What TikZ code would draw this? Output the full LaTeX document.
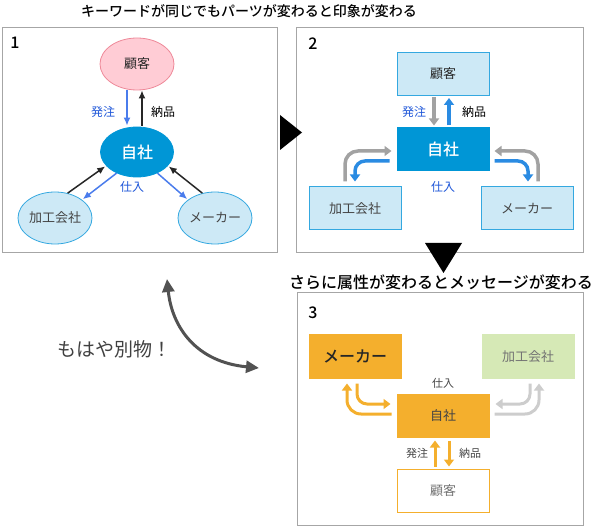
\documentclass[tikz,border=0pt]{standalone}
\usepackage{fontspec}
\setmainfont{Noto Sans CJK JP}
\newfontfamily\medium{Noto Sans CJK JP Medium}
\usepackage{tikz}
\usetikzlibrary{arrows.meta,calc,positioning,shapes.geometric}
\definecolor{selfblue}{HTML}{0096D6}
\definecolor{paleblue}{HTML}{CDE9F6}
\definecolor{edgeblue}{HTML}{34A8E0}
\definecolor{pinkfill}{HTML}{FFCCD5}
\definecolor{pinkedge}{HTML}{EE8898}
\definecolor{linkblue}{HTML}{4A7CEC}
\definecolor{wordblue}{HTML}{1E56D8}
\definecolor{flowblue}{HTML}{2A8BE2}
\definecolor{flowgray}{HTML}{A2A2A2}
\definecolor{amber}{HTML}{F4AF2D}
\definecolor{leaf}{HTML}{D6E9B6}
\definecolor{mist}{HTML}{CDCDCD}
\definecolor{framegray}{HTML}{A6A6A6}
\definecolor{ink}{HTML}{444444}
\newcommand{\fs}[1]{\fontsize{#1}{#1}\selectfont}

\begin{document}
\begin{tikzpicture}[x=1pt,y=-1pt,>=Latex,
  frame/.style={draw=framegray,line width=1pt},
  oval/.style={ellipse,draw=edgeblue,fill=paleblue,line width=0.8pt,
    minimum width=74pt,minimum height=52pt,inner sep=0pt,font=\fs{13},text=ink},
  card/.style={rectangle,draw=edgeblue,fill=paleblue,line width=1pt,
    minimum width=92pt,minimum height=43pt,inner sep=0pt,font=\fs{13},text=ink},
  thin/.style={-{Latex[length=8pt,width=7pt]},line width=1.5pt,shorten >=1pt},
  fat/.style={-{Triangle[length=7pt,width=10pt]},line width=3.5pt},
  word/.style={font=\fs{12},inner sep=0pt}]
  \useasboundingbox (0,0) rectangle (594,526);

  % titles and frames
  \node[font=\medium\fs{14}] (title1) at (249,11) {キーワードが同じでもパーツが変わると印象が変わる};
  \node[font=\medium\fs{16}] (title2) at (441,282) {さらに属性が変わるとメッセージが変わる};
  \draw[frame] (2,28) rectangle (277,253);
  \draw[frame] (296,28) rectangle (583,253);
  \draw[frame] (297,293) rectangle (583,525);
  \node[font=\medium\fs{16}] (num1) at (15,43) {1};
  \node[font=\medium\fs{16}] (num2) at (313,44) {2};
  \node[font=\medium\fs{16}] (num3) at (313,313) {3};
  \fill (280,115) -- (302,132.5) -- (280,150) -- cycle;
  \fill (425,243) -- (462,243) -- (443.5,273) -- cycle;

  % panel 1
  \node[oval,fill=pinkfill,draw=pinkedge,text=black!85] (kokyaku1) at (137,64) {顧客};
  \node[oval,fill=selfblue,draw=selfblue,text=white,font=\medium\fs{16},
    minimum width=73pt,minimum height=50pt] (jisha1) at (137,152) {自社};
  \node[oval] (kako1) at (55,218) {加工会社};
  \node[oval] (maker1) at (215,218) {メーカー};
  \draw[thin,linkblue] ($(kokyaku1.south)+(-10,0)$) -- ($(jisha1.north)+(-10,0)$);
  \draw[thin,black!85] ($(jisha1.north)+(5,-1)$) -- ($(kokyaku1.south)+(5,-1)$);
  \draw[thin,black!85] (kako1.63) -- (jisha1.204);
  \draw[thin,linkblue] (jisha1.226) -- (kako1.34);
  \draw[thin,linkblue] (jisha1.314) -- (maker1.146);
  \draw[thin,black!85] (maker1.117) -- (jisha1.336);
  \node[word,text=wordblue] (order1) at (103,112) {発注};
  \node[word] (deliver1) at (163,112) {納品};
  \node[word,text=wordblue] (buy1) at (132,187) {仕入};

  % panel 2
  \node[card,text=black!85] (kokyaku2) at (443,74) {顧客};
  \node[card,fill=selfblue,draw=selfblue,text=white,font=\medium\fs{16}] (jisha2) at (443,149.5) {自社};
  \node[card] (kako2) at (355,208.5) {加工会社};
  \node[card] (maker2) at (527,208.5) {メーカー};
  \draw[fat,flowgray] ($(kokyaku2.south)+(-9,1)$) -- ($(jisha2.north)+(-9,-2)$);
  \draw[fat,flowblue] ($(jisha2.north)+(6,-2)$) -- ($(kokyaku2.south)+(6,2)$);
  \draw[fat,flowgray,rounded corners=13pt] ($(kako2.north)+(-10,-5)$) |- ($(jisha2.west)+(-5,1.5)$);
  \draw[fat,flowblue,rounded corners=10pt] ($(jisha2.west)+(-7,11.5)$) -| ($(kako2.north)+(0,-5)$);
  \draw[fat,flowgray,rounded corners=13pt] ($(maker2.north)+(11,-5)$) |- ($(jisha2.east)+(5,1.5)$);
  \draw[fat,flowblue,rounded corners=10pt] ($(jisha2.east)+(5,11.5)$) -| ($(maker2.north)+(1,-5)$);
  \node[word,text=wordblue] (order2) at (414,112) {発注};
  \node[word] (deliver2) at (474,112) {納品};
  \node[word,text=wordblue] (buy2) at (443,187) {仕入};

  % panel 3
  \node[card,fill=amber,draw=amber,text=black!85,font=\medium\fs{16}] (maker3) at (355,356.5) {メーカー};
  \node[card,fill=leaf,draw=leaf,text=black!55] (kako3) at (528,356.5) {加工会社};
  \node[card,fill=amber,draw=amber,text=ink,font=\fs{13}] (jisha3) at (443,415.5) {自社};
  \node[card,fill=white,draw=amber,text=black!55] (kokyaku3) at (443,490.5) {顧客};
  \draw[fat,amber,line width=3pt] ($(kokyaku3.north)+(-8,-2)$) -- ($(jisha3.south)+(-8,3)$);
  \draw[fat,amber,line width=3pt] ($(jisha3.south)+(6,3)$) -- ($(kokyaku3.north)+(6,-2)$);
  \draw[fat,amber,line width=3pt,rounded corners=14pt] ($(jisha3.west)+(-5,-1.5)$) -| ($(maker3.south)+(-8,5)$);
  \draw[fat,amber,line width=3pt,rounded corners=10pt] ($(maker3.south)+(2,5)$) |- ($(jisha3.west)+(-6,-11.5)$);
  \draw[fat,mist,line width=3pt,rounded corners=14pt] ($(jisha3.east)+(5,-1.5)$) -| ($(kako3.south)+(11,5)$);
  \draw[fat,mist,line width=3pt,rounded corners=10pt] ($(kako3.south)+(2,5)$) |- ($(jisha3.east)+(6,-11.5)$);
  \node[word,font=\fs{11},text=ink] (buy3) at (443,383) {仕入};
  \node[word,font=\fs{11},text=ink] (order3) at (417,453) {発注};
  \node[word,font=\fs{11},text=ink] (deliver3) at (470,453) {納品};

  % the two-way arrow
  \coordinate (bendtop) at (167,279);
  \coordinate (bendend) at (259,368);
  \draw[{Triangle[length=13pt,width=12pt]}-{Triangle[length=13pt,width=12pt]},
    line width=3pt,black!68] (bendtop) .. controls (172,327) and (196,362) .. (bendend);
  \node[font=\fs{19},text=black!75] (apart) at (114,349) {もはや別物！};
\end{tikzpicture}
\end{document}
